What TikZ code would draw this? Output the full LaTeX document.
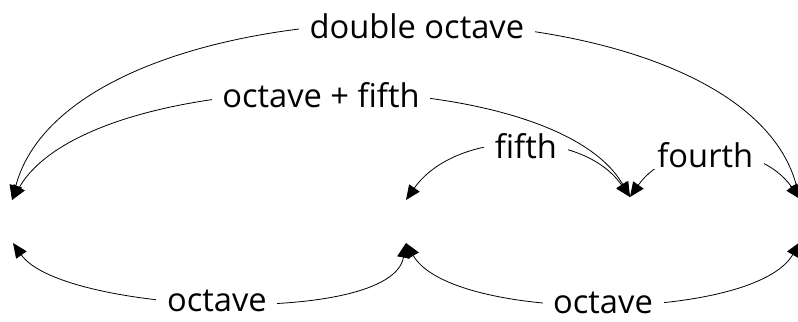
\documentclass[tikz,border=0pt]{standalone}
\usepackage{fontspec}
\setmainfont{Open Sans}
\usetikzlibrary{arrows.meta}

\begin{document}
\begin{tikzpicture}[x=0.75pt,y=0.75pt,
  link/.style={line width=0.6pt,>={Triangle[length=11pt,width=9.5pt]},<->},
  lbl/.style={fill=white,inner xsep=8pt,inner ysep=1pt,font=\fontsize{24.5}{28}\selectfont}]
\path[use as bounding box] (0,0) rectangle (798,321);
\coordinate (tA) at (12,121);
\coordinate (tB) at (406,121);
\coordinate (tC) at (630,124);
\coordinate (tD) at (800,122);
\coordinate (bA) at (13,78);
\coordinate (bB) at (406,78);
\coordinate (bD) at (800,79);
\draw[link] (tB) to[out=55,in=125,looseness=0.97] node[lbl,pos=0.53] {fifth} (tC);
\draw[link] (tC) to[out=55,in=125,looseness=1.06] node[lbl,pos=0.45] {fourth} (tD);
\draw[link] (tA) to[out=75,in=105,looseness=0.78] node[lbl,pos=0.51] {double octave} (tD);
\draw[link] (tA) to[out=60,in=120,looseness=0.66] node[lbl] {octave + fifth} (tC);
\draw[link] (bA) to[out=-55,in=-100,looseness=0.56] node[lbl,pos=0.49] {octave} (bB);
\draw[link] (bB) to[out=-60,in=-120,looseness=0.6] node[lbl] {octave} (bD);
\end{tikzpicture}
\end{document}
